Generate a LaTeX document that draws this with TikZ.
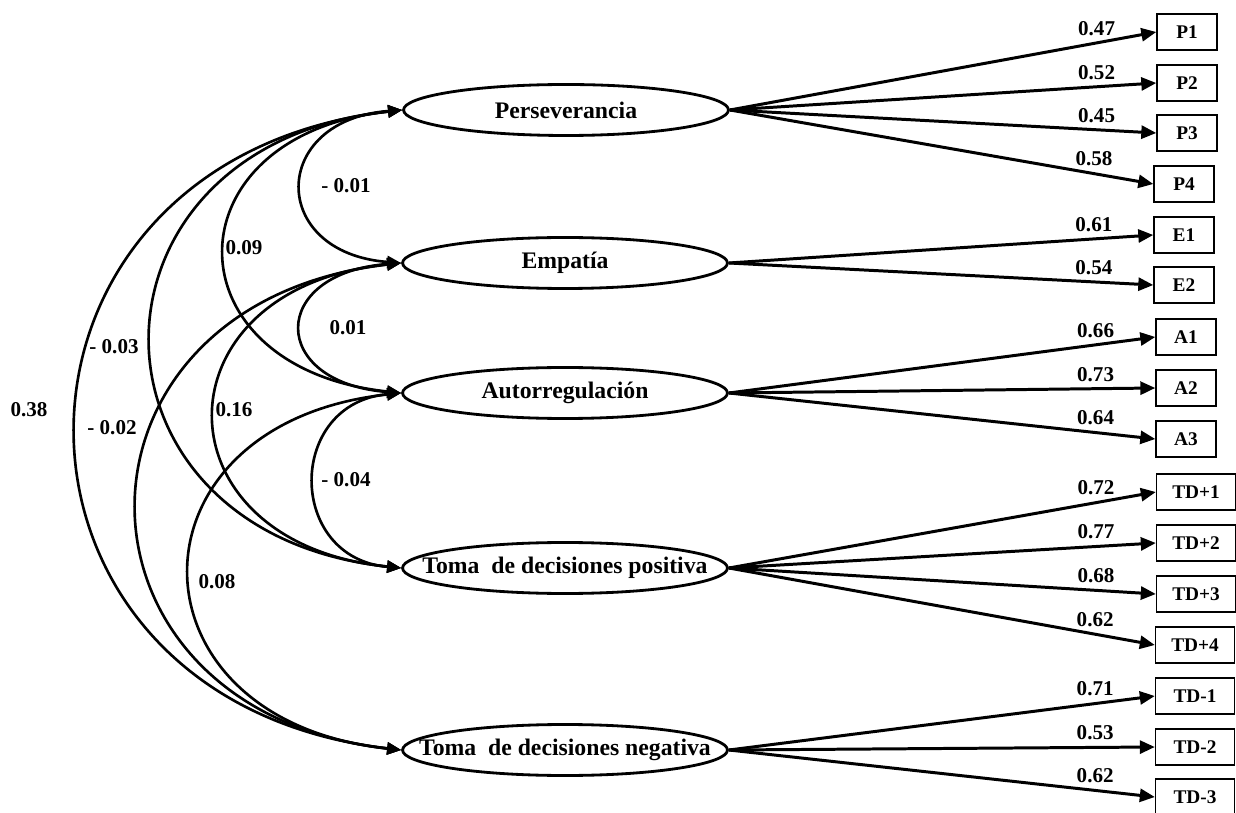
\documentclass[tikz,border=0pt]{standalone}
\usepackage{fontspec}
\setmainfont{Liberation Serif}
\usepackage{tikz}
\usetikzlibrary{shapes.geometric, arrows.meta, positioning}
\tikzset{
    % Bold serif for all nodes
    every node/.style={font=\bfseries},
    % Latent factor style
    factor/.style={
        ellipse,
        draw,
        line width=1.6pt,
        minimum width=6.5cm,
        minimum height=1.02cm,
        inner xsep=-40pt,
        inner ysep=0pt,
        font=\fontsize{13.5}{15}\selectfont\bfseries
    },
    % Observed item style
    item/.style={
        rectangle,
        draw,
        line width=0.8pt,
        minimum width=1.2cm,
        minimum height=0.72cm,
        inner sep=0pt,
        font=\fontsize{11}{13}\selectfont\bfseries
    },
    % Wider item box
    wideitem/.style={
        item,
        minimum width=1.58cm
    },
    % Loading arrow style
    loading/.style={
        -{Triangle[length=0.3cm,width=0.26cm]},
        line width=1.7pt
    },
    % Covariance curve style
    cov/.style={
        {Triangle[length=0.28cm,width=0.24cm]}-{Triangle[length=0.28cm,width=0.24cm]},
        line width=1.5pt
    },
    % Coefficient label
    coef/.style={
        font=\fontsize{12}{14}\selectfont\bfseries
    }
}

\begin{document}
\begin{tikzpicture}[x=0.02cm, y=-0.02cm]
        \useasboundingbox (0,0) rectangle (1236,813);

        % Latent factors
        \node (per) [factor] at (566,110) {Perseverancia};
        \node (emp) [factor] at (565,263) {Empatía};
        \node (aut) [factor] at (565,393) {Autorregulación};
        \node (tdp) [factor] at (565,568) {Toma\ \ de decisiones positiva};
        \node (tdn) [factor] at (565,750) {Toma\ \ de decisiones negativa};

        % Observed items
        \node (p1) [item] at (1187,32) {P1};
        \node (p2) [item] at (1187,83) {P2};
        \node (p3) [item] at (1187,133) {P3};
        \node (p4) [item] at (1184,184) {P4};
        \node (e1) [item] at (1184,235) {E1};
        \node (e2) [item] at (1184,285) {E2};
        \node (a1) [item] at (1186,337) {A1};
        \node (a2) [item] at (1186,388) {A2};
        \node (a3) [item] at (1186,439) {A3};
        \node (tdp1) [wideitem] at (1196,492) {TD+1};
        \node (tdp2) [wideitem] at (1196,543) {TD+2};
        \node (tdp3) [wideitem] at (1196,594) {TD+3};
        \node (tdp4) [wideitem] at (1195,645) {TD+4};
        \node (tdn1) [wideitem] at (1195,696) {TD-1};
        \node (tdn2) [wideitem] at (1195,747) {TD-2};
        \node (tdn3) [wideitem] at (1195,797) {TD-3};

        % Loadings
        \draw [loading] (per.east) -- node (l1) [coef, above, pos=0.86] {0.47} (p1.west);
        \draw [loading] (per.east) -- node (l2) [coef, above, pos=0.86] {0.52} (p2.west);
        \draw [loading] (per.east) -- node (l3) [coef, above, pos=0.86] {0.45} (p3.west);
        \draw [loading] (per.east) -- node (l4) [coef, above, pos=0.86] {0.58} (p4.west);

        \draw [loading] (emp.east) -- node (l5) [coef, above, pos=0.86] {0.61} (e1.west);
        \draw [loading] (emp.east) -- node (l6) [coef, above, pos=0.86] {0.54} (e2.west);

        \draw [loading] (aut.east) -- node (l7) [coef, above, pos=0.86] {0.66} (a1.west);
        \draw [loading] (aut.east) -- node (l8) [coef, above, pos=0.86] {0.73} (a2.west);
        \draw [loading] (aut.east) -- node (l9) [coef, above, pos=0.86] {0.64} (a3.west);

        \draw [loading] (tdp.east) -- node (l10) [coef, above, pos=0.86] {0.72} (tdp1.west);
        \draw [loading] (tdp.east) -- node (l11) [coef, above, pos=0.86] {0.77} (tdp2.west);
        \draw [loading] (tdp.east) -- node (l12) [coef, above, pos=0.86] {0.68} (tdp3.west);
        \draw [loading] (tdp.east) -- node (l13) [coef, above, pos=0.86] {0.62} (tdp4.west);

        \draw [loading] (tdn.east) -- node (l14) [coef, above, pos=0.86] {0.71} (tdn1.west);
        \draw [loading] (tdn.east) -- node (l15) [coef, above, pos=0.86] {0.53} (tdn2.west);
        \draw [loading] (tdn.east) -- node (l16) [coef, above, pos=0.86] {0.62} (tdn3.west);

        % Covariances
        \draw [cov] (per.west) .. controls +(-133,10) and +(-133,-10) .. (emp.west);
        \draw [cov] (per.west) .. controls +(-235,25) and +(-235,-25) .. (aut.west);
        \draw [cov] (per.west) .. controls +(-333,35) and +(-333,-35) .. (tdp.west);
        \draw [cov] (per.west) .. controls +(-433,50) and +(-433,-50) .. (tdn.west);
        \draw [cov] (emp.west) .. controls +(-133,10) and +(-133,-10) .. (aut.west);
        \draw [cov] (emp.west) .. controls +(-248,25) and +(-248,-25) .. (tdp.west);
        \draw [cov] (emp.west) .. controls +(-351,40) and +(-351,-40) .. (tdn.west);
        \draw [cov] (aut.west) .. controls +(-115,10) and +(-115,-10) .. (tdp.west);
        \draw [cov] (aut.west) .. controls +(-281,30) and +(-281,-30) .. (tdn.west);

        \node (c1) [coef] at (346,186) {- 0.01};
        \node (c2) [coef] at (244,248) {0.09};
        \node (c3) [coef] at (114,347) {- 0.03};
        \node (c4) [coef] at (29,410) {0.38};
        \node (c5) [coef] at (112,428) {- 0.02};
        \node (c6) [coef] at (348,328) {0.01};
        \node (c7) [coef] at (234,410) {0.16};
        \node (c8) [coef] at (346,480) {- 0.04};
        \node (c9) [coef] at (217,582) {0.08};
\end{tikzpicture}
\end{document}
